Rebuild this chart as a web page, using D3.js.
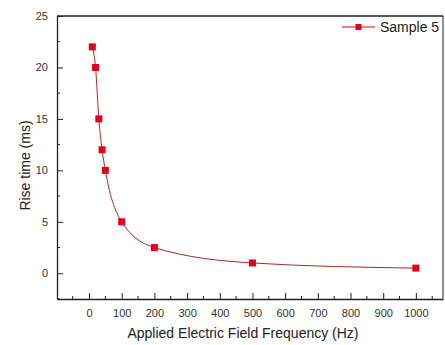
<!DOCTYPE html>
<html>
<head>
<meta charset="utf-8">
<script src="https://cdn.jsdelivr.net/npm/d3@7"></script>
<style>
  body { margin: 0; background: #fff; }
  svg { font-family: Arial, "Liberation Sans", sans-serif; }
</style>
</head>
<body>
<div id="chart"></div>
<script>
// data
const frequency = [10, 20, 30, 40, 50, 100, 200, 500, 1000];
const riseTime = [22, 20, 15, 12, 10, 5, 2.5, 1, 0.5];
const xTicks = [0, 100, 200, 300, 400, 500, 600, 700, 800, 900, 1000];
const yTicks = [0, 5, 10, 15, 20, 25];
const seriesName = "Sample 5";

const W = 445, H = 345;
const margin = {top: 16, right: 2, bottom: 46, left: 57};
const width = W - margin.left - margin.right,
      height = H - margin.top - margin.bottom;

const svg = d3.select("#chart").append("svg")
  .attr("width", W).attr("height", H);

const g = svg.append("g")
  .attr("transform", `translate(${margin.left},${margin.top})`);

const x = d3.scaleLinear().domain([-98, 1083]).range([0, width]);
const y = d3.scaleLinear().domain([-2.5, 25]).range([height, 0]);

// minor ticks (inward)
const xMinor = d3.range(-50, 1051, 50).filter(v => !xTicks.includes(v));
const yMinor = d3.range(-2.5, 25, 2.5).filter(v => !yTicks.includes(v));

g.append("g").selectAll("line").data(xMinor).join("line")
  .attr("x1", d => x(d)).attr("x2", d => x(d))
  .attr("y1", height).attr("y2", height - 3)
  .attr("stroke", "#222").attr("stroke-width", 1);
g.append("g").selectAll("line").data(yMinor).join("line")
  .attr("y1", d => y(d)).attr("y2", d => y(d))
  .attr("x1", 0).attr("x2", 3)
  .attr("stroke", "#222").attr("stroke-width", 1);

// axes
const xAxis = g.append("g")
  .attr("transform", `translate(0,${height})`)
  .call(d3.axisBottom(x).tickValues(xTicks).tickFormat(d3.format("d"))
    .tickSizeInner(-6).tickSizeOuter(0).tickPadding(10));
const yAxis = g.append("g")
  .call(d3.axisLeft(y).tickValues(yTicks).tickSizeInner(-6).tickSizeOuter(0).tickPadding(9));

[xAxis, yAxis].forEach(a => {
  a.select(".domain").attr("stroke", "#222").attr("stroke-width", 1.3);
  a.selectAll(".tick line").attr("stroke", "#222");
  a.selectAll(".tick text").attr("fill", "#333").style("font-size", "11px")
    .style("font-family", "Arial, 'Liberation Sans', sans-serif");
});

// top and right frame
g.append("line").attr("x1", 0).attr("x2", width).attr("y1", 0).attr("y2", 0)
  .attr("stroke", "#222").attr("stroke-width", 1.3);
g.append("line").attr("x1", width).attr("x2", width).attr("y1", 0).attr("y2", height)
  .attr("stroke", "#222").attr("stroke-width", 1);

// series
const pts = frequency.map((f, i) => [f, riseTime[i]]);
const line = d3.line().x(d => x(d[0])).y(d => y(d[1])).curve(d3.curveMonotoneX);

g.append("path").datum(pts)
  .attr("fill", "none").attr("stroke", "#a52a2a").attr("stroke-width", 1)
  .attr("d", line);

const ms = 7;
g.append("g").selectAll("rect").data(pts).join("rect")
  .attr("x", d => x(d[0]) - ms / 2).attr("y", d => y(d[1]) - ms / 2)
  .attr("width", ms).attr("height", ms)
  .attr("fill", "#e0001b");

// legend
const lg = svg.append("g").attr("transform", "translate(342,27)");
lg.append("line").attr("x1", 0).attr("x2", 33).attr("y1", 0).attr("y2", 0)
  .attr("stroke", "#e0001b").attr("stroke-width", 1.2);
lg.append("rect").attr("x", 16.5 - 3).attr("y", -3).attr("width", 6).attr("height", 6)
  .attr("fill", "#e0001b");
lg.append("text").attr("x", 38).attr("y", 5)
  .style("font-size", "14px").attr("fill", "#222").text(seriesName);

// axis titles
svg.append("text")
  .attr("x", margin.left + width / 2 - 7).attr("y", 338)
  .attr("text-anchor", "middle").style("font-size", "14px").attr("fill", "#222")
  .text("Applied Electric Field Frequency (Hz)");
svg.append("text")
  .attr("transform", `translate(30,${margin.top + height / 2 + 8}) rotate(-90)`)
  .attr("text-anchor", "middle").style("font-size", "14px").attr("fill", "#222")
  .text("Rise time (ms)");
</script>
</body>
</html>
